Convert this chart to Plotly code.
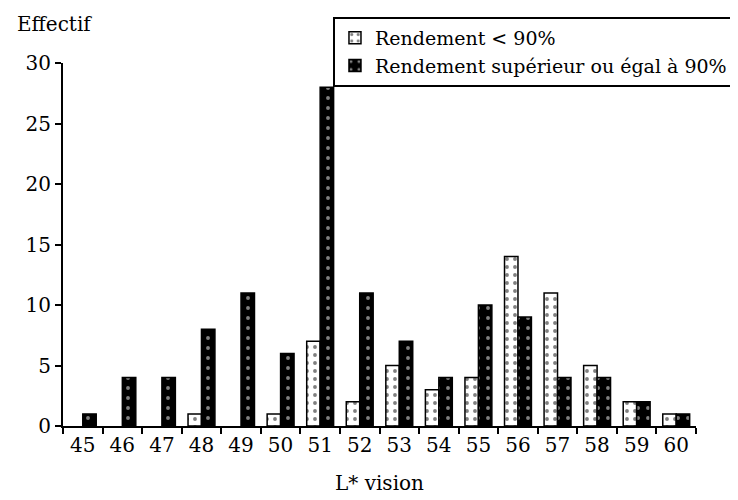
import plotly.graph_objects as go

categories = ["45", "46", "47", "48", "49", "50", "51", "52", "53", "54", "55", "56", "57", "58", "59", "60"]
below_90 = [0, 0, 0, 1, 0, 1, 7, 2, 5, 3, 4, 14, 11, 5, 2, 1]
above_90 = [1, 4, 4, 8, 11, 6, 28, 11, 7, 4, 10, 9, 4, 4, 2, 1]
y_ticks = [0, 5, 10, 15, 20, 25, 30]

FONT = "DejaVu Serif"

def outline(vals):
    return [1.5 if v > 0 else 0 for v in vals]

white_pattern = dict(shape=".", fgcolor="black", bgcolor="white", size=8, solidity=0.18)
black_pattern = dict(shape=".", fgcolor="white", bgcolor="black", size=10, solidity=0.12)

fig = go.Figure()
fig.add_trace(go.Bar(
    x=categories, y=below_90, name="Rendement < 90%", showlegend=False, offsetgroup="a",
    marker=dict(color="white", line=dict(color="black", width=outline(below_90)), pattern=white_pattern),
))
fig.add_trace(go.Bar(
    x=categories, y=above_90, name="Rendement supérieur ou égal à 90%", showlegend=False, offsetgroup="b",
    marker=dict(color="black", line=dict(color="black", width=outline(above_90)), pattern=black_pattern),
))
# legend entries
fig.add_trace(go.Bar(
    x=[None], y=[None], name="Rendement < 90%", offsetgroup="a",
    marker=dict(color="white", line=dict(color="black", width=1.5), pattern=white_pattern),
))
fig.add_trace(go.Bar(
    x=[None], y=[None], name="Rendement supérieur ou égal à 90%", offsetgroup="b",
    marker=dict(color="black", line=dict(color="black", width=1.5), pattern=black_pattern),
))

fig.update_layout(
    width=738, height=500,
    margin=dict(l=55, r=50, t=55, b=82, autoexpand=False),
    paper_bgcolor="white", plot_bgcolor="white",
    barmode="group", bargap=0.32, bargroupgap=0.0,
    font=dict(family=FONT, size=20, color="black"),
    showlegend=True,
    legend=dict(
        x=0.4265, y=1.127, xanchor="left", yanchor="top",
        bordercolor="black", borderwidth=2, bgcolor="white",
        font=dict(family=FONT, size=19, color="black"),
        tracegroupgap=0, itemwidth=30,
    ),
    xaxis=dict(
        type="category", tickson="boundaries", ticks="outside", ticklen=6,
        tickwidth=2, tickcolor="black", showline=True, linecolor="black", linewidth=2,
        showgrid=False, zeroline=False,
        tickfont=dict(family=FONT, size=20, color="black"),
        title=dict(text="L* vision", font=dict(family=FONT, size=20), standoff=20),
    ),
    yaxis=dict(
        range=[0, 30], tickvals=y_ticks, ticks="outside", ticklen=6, tickwidth=2,
        tickcolor="black", showline=True, linecolor="black", linewidth=2,
        showgrid=False, zeroline=False,
        tickfont=dict(family=FONT, size=20, color="black"),
    ),
    annotations=[dict(
        text="Effectif", xref="paper", yref="paper", x=-0.076, y=1.07,
        xanchor="left", yanchor="bottom", showarrow=False,
        font=dict(family=FONT, size=20, color="black"),
    )],
)

fig.write_html("out.html")
